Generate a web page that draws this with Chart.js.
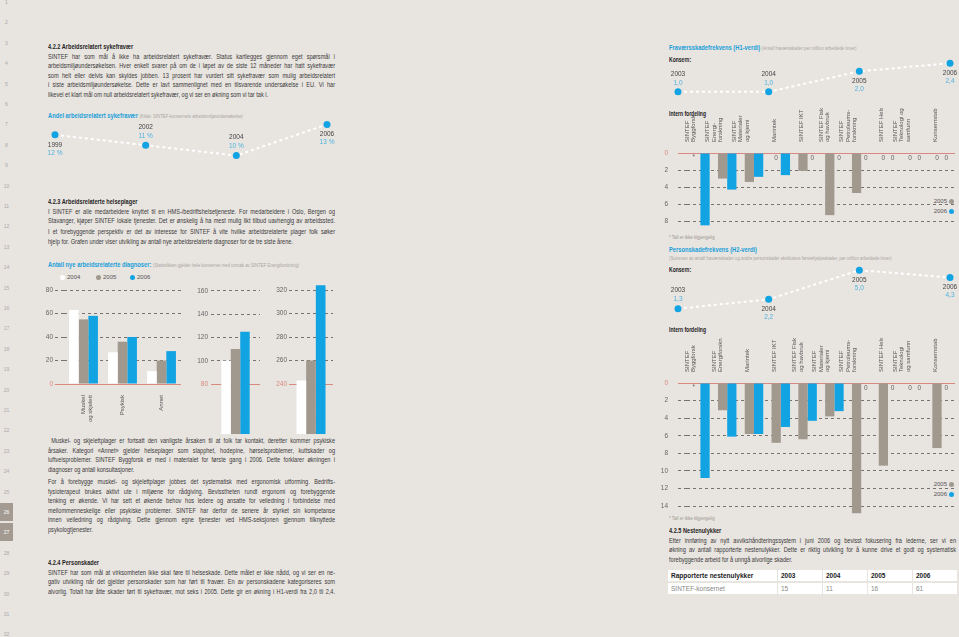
<!DOCTYPE html>
<html>
<head>
<meta charset="utf-8">
<script src="https://cdn.jsdelivr.net/npm/chart.js@4.4.0/dist/chart.umd.min.js"></script>
<style>
body{margin:0;background:#e8e4e0;width:959px;height:637px;overflow:hidden;position:relative;font-family:'Liberation Sans',sans-serif;color:#3a3a3a}
.txt{position:absolute;font-size:8px;line-height:9.6px;width:410px;transform:scaleX(0.7);transform-origin:0 0}
.txt div{text-align:justify;text-align-last:justify}
.txt div.l{text-align-last:left}
.txt div.h{text-align-last:left;font-weight:bold;color:#1e1e1e}
.ttl{position:absolute;color:#1a9fd9;font-size:8px;font-weight:bold;white-space:nowrap;transform:scaleX(0.72);transform-origin:0 0}
.ttl span{color:#a9a6a2;font-size:6px;font-weight:normal}
.lbl{position:absolute;font-size:7px;font-weight:bold;color:#222;transform:scaleX(0.72);transform-origin:0 0}
.note{position:absolute;font-size:5.5px;color:#9a9690;white-space:nowrap;transform:scaleX(0.8);transform-origin:0 0}
.leg{position:absolute;font-size:6px;color:#555;white-space:nowrap}
.dot{display:inline-block;width:5px;height:5px;border-radius:50%;vertical-align:middle;margin:0 2px}
.num{position:absolute;left:0;width:13px;text-align:center;font-size:5px;color:#aaa}
.num.on{background:#a39b91;color:#fff;height:18px;line-height:18px}
canvas{position:absolute}
table{position:absolute;left:667px;top:568px;border-collapse:separate;border-spacing:1px 2px;font-size:6.5px}
td{background:#fff;height:11px;padding:0 0 0 3px;color:#888}
tr.hd td{color:#222;font-weight:bold}
</style>
</head>
<body>

<div id="nums"></div>

<div class="txt" style="left:48px;top:42px">
<div class="h">4.2.2 Arbeidsrelatert sykefravær</div>
<div>SINTEF har som mål å ikke ha arbeidsrelatert sykefravær. Status kartlegges gjennom eget spørsmål i</div>
<div>arbeidsmiljøundersøkelsen. Hver enkelt svarer på om de i løpet av de siste 12 måneder har hatt sykefravær</div>
<div>som helt eller delvis kan skyldes jobben. 13 prosent har vurdert sitt sykefravær som mulig arbeidsrelatert</div>
<div>i siste arbeidsmiljøundersøkelse. Dette er lavt sammenlignet med en tilsvarende undersøkelse i EU. Vi har</div>
<div class="l">likevel et klart mål om null arbeidsrelatert sykefravær, og vi ser en økning som vi tar tak i.</div>
</div>
<div class="ttl" style="left:48px;top:111px">Andel arbeidsrelatert sykefravær <span>(Kilde: SINTEF-konsernets arbeidsmiljøundersøkelse)</span></div>

<div class="txt" style="left:48px;top:197px">
<div class="h">4.2.3 Arbeidsrelaterte helseplager</div>
<div>I SINTEF er alle medarbeidere knyttet til en HMS-/bedriftshelsetjeneste. For medarbeidere i Oslo, Bergen og</div>
<div>Stavanger, kjøper SINTEF lokale tjenester. Det er ønskelig å ha mest mulig likt tilbud uavhengig av arbeidssted.</div>
</div>
<div class="txt" style="left:48px;top:227px">
<div>I et forebyggende perspektiv er det av interesse for SINTEF å vite hvilke arbeidsrelaterte plager folk søker</div>
<div class="l">hjelp for. Grafen under viser utvikling av antall nye arbeidsrelaterte diagnoser for de tre siste årene.</div>
</div>
<div class="ttl" style="left:48px;top:260px">Antall nye arbeidsrelaterte diagnoser: <span>(Statistikken gjelder hele konsernet med unntak av SINTEF Energiforskning)</span></div>
<div class="leg" style="left:58px;top:274px"><span class="dot" style="background:#fff"></span>2004</div>
<div class="leg" style="left:94px;top:274px"><span class="dot" style="background:#a1988e"></span>2005</div>
<div class="leg" style="left:128px;top:274px"><span class="dot" style="background:#12a3e3"></span>2006</div>

<div class="txt" style="left:48px;top:436px">
<div>&nbsp;Muskel- og skjelettplager er fortsatt den vanligste årsaken til at folk tar kontakt, deretter kommer psykiske</div>
<div>årsaker. Kategori «Annet» gjelder helseplager som slapphet, hodepine, hørselsproblemer, kuttskader og</div>
<div>luftveisproblemer. SINTEF Byggforsk er med i materialet for første gang i 2006. Dette forklarer økningen i</div>
<div class="l">diagnoser og antall konsultasjoner.</div>
</div>
<div class="txt" style="left:48px;top:477px">
<div>For å forebygge muskel- og skjelettplager jobbes det systematisk med ergonomisk utforming. Bedrifts-</div>
<div>fysioterapeut brukes aktivt ute i miljøene for rådgiving. Bevisstheten rundt ergonomi og forebyggende</div>
<div>tenking er økende. Vi har sett et økende behov hos ledere og ansatte for veiledning i forbindelse med</div>
<div>mellommenneskelige eller psykiske problemer. SINTEF har derfor de senere år styrket sin kompetanse</div>
<div>innen veiledning og rådgiving. Dette gjennom egne tjenester ved HMS-seksjonen gjennom tilknyttede</div>
<div class="l">psykologtjenester.</div>
</div>
<div class="txt" style="left:48px;top:558px">
<div class="h">4.2.4 Personskader</div>
<div>SINTEF har som mål at virksomheten ikke skal føre til helseskade. Dette målet er ikke nådd, og vi ser en ne-</div>
<div>gativ utvikling når det gjelder personskader som har ført til fravær. En av personskadene kategoriseres som</div>
<div>alvorlig. Totalt har åtte skader ført til sykefravær, mot seks i 2005. Dette gir en økning i H1-verdi fra 2,0 til 2,4.</div>
</div>

<div class="ttl" style="left:669px;top:43px">Fraværsskadefrekvens (H1-verdi) <span>(Antall fraværsskader per million arbeidede timer)</span></div>
<div class="lbl" style="left:669px;top:56px">Konsern:</div>
<div class="lbl" style="left:669px;top:110px">Intern fordeling</div>
<div class="leg" style="right:3px;top:198px">2005<span class="dot" style="background:#a1988e"></span></div>
<div class="leg" style="right:3px;top:208px">2006<span class="dot" style="background:#12a3e3"></span></div>
<div class="note" style="left:669px;top:234px">* Tall er ikke tilgjengelig</div>

<div class="ttl" style="left:669px;top:245px">Personskadefrekvens (H2-verdi)</div>
<div class="ttl" style="left:669px;top:253px"><span>(Summen av antall fraværsskader og andre personskader ekskluisve førstehjelpsskader, per million arbeidede timer)</span></div>
<div class="lbl" style="left:669px;top:266px">Konsern:</div>
<div class="lbl" style="left:669px;top:326px">Intern fordeling</div>
<div class="leg" style="right:3px;top:481px">2005<span class="dot" style="background:#a1988e"></span></div>
<div class="leg" style="right:3px;top:491px">2006<span class="dot" style="background:#12a3e3"></span></div>
<div class="note" style="left:669px;top:515px">* Tall er ikke tilgjengelig</div>

<div class="txt" style="left:669px;top:526px">
<div class="h">4.2.5 Nestenulykker</div>
<div>Etter innføring av nytt avvikshåndteringssystem i juni 2006 og bevisst fokusering fra lederne, ser vi en</div>
<div>økning av antall rapporterte nestenulykker. Dette er riktig utvikling for å kunne drive et godt og systematisk</div>
<div class="l">forebyggende arbeid for å unngå alvorlige skader.</div>
</div>
<table id="nesten"></table>

<canvas id="sykChart" width="292" height="60" style="left:45px;top:110px"></canvas>
<canvas id="diagChart" width="141" height="150" style="left:40px;top:284px"></canvas>
<canvas id="nyeChart" width="74" height="150" style="left:186px;top:284px"></canvas>
<canvas id="konsChart" width="71" height="150" style="left:262px;top:284px"></canvas>
<canvas id="h1Line" width="291" height="55" style="left:668px;top:51px"></canvas>
<canvas id="h1Bars" width="297" height="127" style="left:658px;top:108px"></canvas>
<canvas id="h2Line" width="291" height="60" style="left:668px;top:261px"></canvas>
<canvas id="h2Bars" width="297" height="182" style="left:658px;top:338px"></canvas>

<script>
// sykefravær
const sykYears = ['1999', '2002', '2004', '2006'];
const sykValues = [12, 11, 10, 13];
const sykPlace = ['below', 'above', 'above', 'below'];

// diagnoser
const diagCats = [['Muskel', 'og skjelett'], 'Psykisk', 'Annet'];
const diag2004 = [63, 27, 11];
const diag2005 = [55, 36, 20];
const diag2006 = [58, 40, 28];
const diagTicks = [0, 20, 40, 60, 80];
const nyeCats = [['Totalt antall', 'nye diagnoser']];
const nye2004 = [100];
const nye2005 = [110];
const nye2006 = [125];
const nyeTicks = [80, 100, 120, 140, 160];
const konsCats = [['Totalt antall', 'konsultasjoner']];
const kons2004 = [243];
const kons2005 = [260];
const kons2006 = [324];
const konsTicks = [240, 260, 280, 300, 320];

// H1
const h1Years = ['2003', '2004', '2005', '2006'];
const h1Values = [1.0, 1.0, 2.0, 2.4];
const h1Place = ['above', 'above', 'below', 'below'];
const h1Units = [['SINTEF', 'Byggforsk'], ['SINTEF', 'Energi-', 'forskning'], ['SINTEF', 'Materialer', 'og kjemi'], 'Marintek', 'SINTEF IKT',
  ['SINTEF Fiskeri', 'og havbruk'], ['SINTEF', 'Petroleums-', 'forskning'], 'SINTEF Helse', ['SINTEF', 'Teknologi og', 'samfunn'], 'Konsernstab'];
const h1_2005 = [null, 3.0, 3.4, 0, 2.1, 7.3, 4.7, 0, 0, 0];
const h1_2006 = [8.5, 4.3, 2.8, 2.6, 0, 0, 0, 0, 0, 0];
const h1Ticks = [0, 2, 4, 6, 8];

// H2
const h2Years = ['2003', '2004', '2005', '2006'];
const h2Values = [1.3, 2.2, 5.0, 4.3];
const h2Place = ['above', 'below', 'below', 'below'];
const h2Units = [['SINTEF', 'Byggforsk'], ['SINTEF', 'Energiforskning'], 'Marintek', 'SINTEF IKT', ['SINTEF Fiskeri', 'og havbruk'],
  ['SINTEF', 'Materialer', 'og kjemi'], ['SINTEF', 'Petroleums-', 'forskning'], 'SINTEF Helse', ['SINTEF', 'Teknologi', 'og samfunn'], 'Konsernstab'];
const h2_2005 = [null, 3.1, 5.8, 6.8, 6.4, 3.8, 14.8, 9.4, 0, 7.4];
const h2_2006 = [10.8, 6.1, 5.8, 5.0, 4.3, 3.2, 0, 0, 0, 0];
const h2Ticks = [0, 2, 4, 6, 8, 10, 12, 14];

// nestenulykker
const nestenYears = ['2003', '2004', '2005', '2006'];
const nestenValues = [15, 11, 16, 61];

const BLUE = '#12a3e3', GREY = '#a1988e', WHITE = '#ffffff', RED = '#d98a80', GRID = '#77726d';
const FONT = '"Liberation Sans", sans-serif';
Chart.defaults.font.family = FONT;

// line numbers in the margin
let s = '';
for (let n = 1; n <= 32; n++) {
    let y = 2 + (n - 1) * 20.4;
    if (n == 26 || n == 27) s += '<div class="num on" style="top:' + (y - 9) + 'px">' + n + '</div>';
    else s += '<div class="num" style="top:' + (y - 3) + 'px">' + n + '</div>';
}
document.getElementById('nums').innerHTML = s;

// table
let t = '<tr class="hd"><td style="width:106px">Rapporterte nestenulykker</td>';
nestenYears.forEach(y => t += '<td style="width:41px">' + y + '</td>');
t += '</tr><tr><td>SINTEF-konsernet</td>';
nestenValues.forEach(v => t += '<td>' + v + '</td>');
document.getElementById('nesten').innerHTML = t + '</tr>';

function dotChart(id, years, values, place, fmt, min, max, pad) {
    new Chart(document.getElementById(id), {
        type: 'line',
        data: {
            labels: years,
            datasets: [{
                data: values,
                borderColor: '#ffffff',
                borderWidth: 2,
                borderDash: [3, 3],
                pointRadius: 3.5,
                pointBackgroundColor: BLUE,
                pointBorderWidth: 0,
                clip: false
            }]
        },
        options: {
            responsive: false,
            animation: false,
            layout: {padding: pad},
            plugins: {legend: {display: false}, tooltip: {enabled: false}},
            scales: {x: {display: false}, y: {display: false, min: min, max: max}}
        },
        plugins: [{
            id: 'yearLabels',
            afterDatasetsDraw(chart) {
                const ctx = chart.ctx;
                ctx.save();
                ctx.font = '6.5px ' + FONT;
                ctx.textAlign = 'center';
                ctx.textBaseline = 'middle';
                chart.getDatasetMeta(0).data.forEach((pt, i) => {
                    const d = place[i] == 'above' ? [-18, -9] : [10, 18];
                    ctx.fillStyle = '#444';
                    ctx.fillText(years[i], pt.x, pt.y + d[0]);
                    ctx.fillStyle = '#4fb3e0';
                    ctx.fillText(fmt(values[i]), pt.x, pt.y + d[1]);
                });
                ctx.restore();
            }
        }]
    });
}

const zeroLabels = {
    id: 'zeroLabels',
    afterDatasetsDraw(chart) {
        const ctx = chart.ctx;
        const yb = chart.scales.y.getPixelForValue(0);
        ctx.save();
        ctx.font = '6.5px ' + FONT;
        ctx.fillStyle = '#666';
        ctx.textAlign = 'center';
        ctx.textBaseline = 'middle';
        chart.data.datasets.forEach((ds, di) => {
            chart.getDatasetMeta(di).data.forEach((el, i) => {
                if (ds.data[i] === 0) ctx.fillText('0', el.x, yb + 5);
                else if (ds.data[i] === null) ctx.fillText('*', el.x - 2, yb + 4);
            });
        });
        ctx.restore();
    }
};

function barChart(id, labels, sets, ticks, o) {
    const base = ticks[0];
    const isBase = c => c.tick && c.tick.value === base;
    return new Chart(document.getElementById(id), {
        type: 'bar',
        data: {
            labels: labels,
            datasets: sets.map(d => ({data: d[0], backgroundColor: d[1], borderWidth: 0, clip: false,
                barPercentage: 1, categoryPercentage: o.cat}))
        },
        options: {
            responsive: false,
            animation: false,
            layout: {padding: o.pad},
            plugins: {legend: {display: false}, tooltip: {enabled: false}},
            scales: {
                x: {
                    position: o.top ? 'top' : 'bottom',
                    grid: {display: false},
                    border: {display: false},
                    ticks: {minRotation: 90, maxRotation: 90, autoSkip: false, padding: 3, color: '#555',
                        font: {size: 6, lineHeight: 1.1}},
                    afterFit: sc => { sc.height = o.xh; }
                },
                y: {
                    reverse: !!o.top,
                    min: ticks[0],
                    max: ticks[ticks.length - 1],
                    afterBuildTicks: sc => { sc.ticks = ticks.map(v => ({value: v})); },
                    afterFit: sc => { sc.width = o.yw; },
                    border: {display: false, dash: c => isBase(c) ? [] : [3, 3]},
                    grid: {
                        color: c => isBase(c) ? RED : GRID,
                        tickColor: c => isBase(c) ? RED : GRID,
                        tickBorderDash: c => isBase(c) ? [] : [3, 3],
                        drawTicks: o.tl > 0,
                        tickLength: o.tl,
                        lineWidth: 1
                    },
                    ticks: {padding: o.tp, color: c => isBase(c) ? RED : '#666', font: {size: 6.5}}
                }
            }
        },
        plugins: o.top ? [zeroLabels] : []
    });
}

const pct = v => v + ' %';
const dec = v => v.toFixed(1).replace('.', ',');

dotChart('sykChart', sykYears, sykValues, sykPlace, pct, 9, 14, {left: 10, right: 10, top: 0, bottom: 0});
dotChart('h1Line', h1Years, h1Values, h1Place, dec, 0.5, 2.8, {left: 10, right: 9, top: 0, bottom: 0});
dotChart('h2Line', h2Years, h2Values, h2Place, dec, 0.5, 5.5, {left: 10, right: 9, top: 0, bottom: 0});

barChart('diagChart', diagCats, [[diag2004, WHITE], [diag2005, GREY], [diag2006, BLUE]], diagTicks,
    {cat: 0.74, yw: 24, tl: 9, tp: 2, xh: 50, pad: {top: 6, bottom: 0, left: 0, right: 0}});
barChart('nyeChart', nyeCats, [[nye2004, WHITE], [nye2005, GREY], [nye2006, BLUE]], nyeTicks,
    {cat: 0.58, yw: 25, tl: 0, tp: 3, xh: 50, pad: {top: 6, bottom: 0, left: 0, right: 0}});
barChart('konsChart', konsCats, [[kons2004, WHITE], [kons2005, GREY], [kons2006, BLUE]], konsTicks,
    {cat: 0.66, yw: 27, tl: 0, tp: 2, xh: 50, pad: {top: 6, bottom: 0, left: 0, right: 0}});

barChart('h1Bars', h1Units, [[h1_2005, GREY], [h1_2006, BLUE]], h1Ticks,
    {top: true, cat: 0.69, yw: 29, tl: 9, tp: 10, xh: 45, pad: {top: 0, bottom: 8, left: 0, right: 0}});
barChart('h2Bars', h2Units, [[h2_2005, GREY], [h2_2006, BLUE]], h2Ticks,
    {top: true, cat: 0.69, yw: 29, tl: 9, tp: 10, xh: 45, pad: {top: 0, bottom: 12, left: 0, right: 0}});
</script>
</body>
</html>
